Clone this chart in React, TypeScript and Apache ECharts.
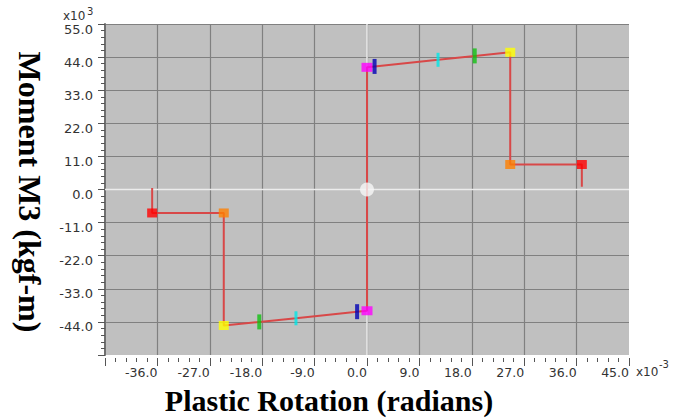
import React, { useEffect, useRef } from "react";
import * as echarts from "echarts";

// Hinge backbone points (x in 1e-3 rad, y in 1e3 kgf-m)
const hingeTypes = ["E", "D", "C", "CP", "LS", "IO", "B", "B", "IO", "LS", "CP", "C", "D", "E"];
const hingeX = [-36.9, -24.6, -24.6, -18.5, -12.2, -1.7, 0, 0, 1.3, 12.2, 18.5, 24.6, 24.6, 36.9];
const hingeY = [-7.8, -7.8, -45.2, -44.0, -42.8, -40.6, -40.3, 40.6, 40.9, 43.1, 44.4, 45.6, 8.3, 8.3];
// line end tips beyond point E
const tipNeg = [-36.9, 0.5];
const tipPos = [36.9, 0.9];
// current state point
const originPoint = [0, 0];

const xMin = -45, xMax = 45, xStep = 9;
const yMin = -55, yMax = 55, yStep = 11;

const typeStyle: Record<string, { color: string; size: number[] }> = {
  B: { color: "#ff00ff", size: [11, 9] },
  IO: { color: "#0000b4", size: [4, 15] },
  LS: { color: "#00e6e6", size: [3, 14] },
  CP: { color: "#10c010", size: [4, 15] },
  C: { color: "#ffff00", size: [10, 9] },
  D: { color: "#ff8000", size: [10, 9] },
  E: { color: "#ff0000", size: [10, 9] },
};

export default function App() {
  const ref = useRef<HTMLDivElement>(null);
  useEffect(() => {
    if (!ref.current) return;
    const chart = echarts.init(ref.current, null, { renderer: "svg" });
    const path = [tipNeg, ...hingeX.map((x, i) => [x, hingeY[i]]), tipPos];
    const markers = hingeX.map((x, i) => {
      const st = typeStyle[hingeTypes[i]];
      return {
        value: [x, hingeY[i]],
        symbol: "rect",
        symbolSize: st.size,
        itemStyle: { color: st.color },
      };
    });
    const sans = "DejaVu Sans";
    const serif = "'Liberation Serif', 'Times New Roman', serif";
    const zeroLine = { color: "#ececec", width: 1.5 };
    chart.setOption({
      animation: false,
      grid: {
        left: 105,
        right: 45,
        top: 24,
        bottom: 63,
        show: true,
        backgroundColor: "#c0c0c0",
        borderWidth: 0,
      },
      xAxis: {
        type: "value",
        min: xMin,
        max: xMax,
        interval: xStep,
        offset: 3,
        axisLine: { show: false, onZero: false },
        axisTick: { show: true, length: 8, lineStyle: { color: "#555", width: 1 } },
        minorTick: { show: true, splitNumber: 5, length: 4, lineStyle: { color: "#555", width: 1 } },
        splitLine: {
          show: true,
          showMinLine: false,
          showMaxLine: false,
          lineStyle: { color: "#808080", width: 1.2 },
        },
        axisLabel: {
          showMinLabel: false,
          formatter: (v: number) => v.toFixed(1),
          fontFamily: sans,
          fontSize: 12.5,
          color: "#333",
          align: "right",
          verticalAlign: "top",
          margin: 8,
        },
      },
      yAxis: {
        type: "value",
        min: yMin,
        max: yMax,
        interval: yStep,
        axisLine: { show: true, onZero: false, lineStyle: { color: "#707070", width: 2 } },
        axisTick: { show: true, length: 7, lineStyle: { color: "#555", width: 1 } },
        minorTick: { show: true, splitNumber: 5, length: 4, lineStyle: { color: "#555", width: 1 } },
        splitLine: {
          show: true,
          showMinLine: false,
          lineStyle: { color: "#808080", width: 1.2 },
        },
        axisLabel: {
          showMinLabel: false,
          formatter: (v: number) => v.toFixed(1),
          fontFamily: sans,
          fontSize: 13,
          color: "#333",
          margin: 12,
          verticalAlign: "top",
          lineHeight: 10,
        },
      },
      series: [
        {
          type: "line",
          data: [[0, yMin], [0, yMax]],
          symbol: "none",
          lineStyle: zeroLine,
          z: 1,
          silent: true,
        },
        {
          type: "line",
          data: [[xMin, 0], [xMax, 0]],
          symbol: "none",
          lineStyle: zeroLine,
          z: 1,
          silent: true,
        },
        {
          type: "line",
          data: path,
          symbol: "none",
          lineStyle: { color: "#d84848", width: 2 },
          z: 3,
        },
        {
          type: "scatter",
          data: markers,
          z: 4,
        },
        {
          type: "scatter",
          data: [originPoint],
          symbol: "circle",
          symbolSize: 14,
          itemStyle: { color: "#f6f6f6" },
          z: 5,
        },
      ],
      graphic: [
        {
          type: "text",
          x: 63,
          y: 16,
          style: { text: "x10", fontFamily: sans, fontSize: 12, fill: "#333", textVerticalAlign: "middle" },
        },
        {
          type: "text",
          x: 87,
          y: 11,
          style: { text: "3", fontFamily: sans, fontSize: 10, fill: "#333", textVerticalAlign: "middle" },
        },
        {
          type: "text",
          x: 636,
          y: 372,
          style: { text: "x10", fontFamily: sans, fontSize: 12, fill: "#333", textVerticalAlign: "middle" },
        },
        {
          type: "text",
          x: 659,
          y: 364,
          style: { text: "-3", fontFamily: sans, fontSize: 10, fill: "#333", textVerticalAlign: "middle" },
        },
        {
          type: "text",
          x: 329,
          y: 400,
          style: {
            text: "Plastic Rotation (radians)",
            fontFamily: serif,
            fontWeight: "bold",
            fontSize: 30,
            fill: "#000",
            textAlign: "center",
            textVerticalAlign: "middle",
          },
        },
        {
          type: "text",
          x: 30,
          y: 192,
          rotation: -Math.PI / 2,
          style: {
            text: "Moment M3 (kgf-m)",
            fontFamily: serif,
            fontWeight: "bold",
            fontSize: 32,
            fill: "#000",
            textAlign: "center",
            textVerticalAlign: "middle",
          },
        },
      ],
    });
    return () => chart.dispose();
  }, []);
  return (
    <div
      ref={ref}
      style={{ position: "fixed", left: 0, top: 0, width: 674, height: 418, background: "#fff" }}
    />
  );
}
